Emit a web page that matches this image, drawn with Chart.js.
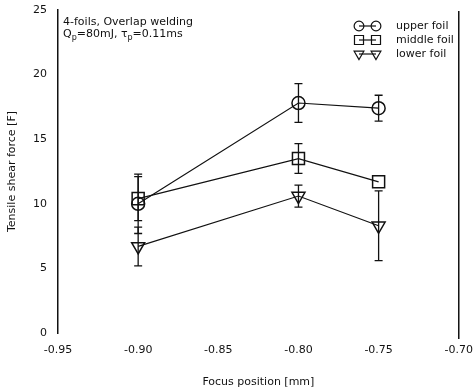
<!DOCTYPE html>
<html>
<head>
<meta charset="utf-8">
<script src="https://cdn.jsdelivr.net/npm/chart.js@4.4.1/dist/chart.umd.min.js"></script>
<style>
  html, body { margin: 0; padding: 0; background: #fff; }
  #wrap { width: 476px; height: 391px; }
</style>
</head>
<body>
<div id="wrap"><canvas id="chartFoil"></canvas></div>
<script>
// focus positions (mm) and tensile shear force per foil
var focusPos = [-0.90, -0.80, -0.75];
var upperFoil = [10.0, 17.8, 17.4];
var upperErr = [2.3, 1.5, 1.0];
var middleFoil = [10.4, 13.5, 11.7];
var middleErr = [1.7, 1.15, 0];
var lowerFoil = [6.7, 10.6, 8.3];
var lowerErr = [1.5, 0.85, 2.7];
var seriesNames = ['upper foil', 'middle foil', 'lower foil'];
var xTicks = [-0.95, -0.90, -0.85, -0.80, -0.75, -0.70];
var yTicks = [0, 5, 10, 15, 20, 25];

var ink = '#111';
var fontFam = '"DejaVu Sans", sans-serif';

function pts(ys) {
  return focusPos.map(function (x, i) { return { x: x, y: ys[i] }; });
}

// error bars drawn with the chart's own scales
var errorBars = {
  id: 'errorBars',
  afterDatasetsDraw: function (chart) {
    var ctx = chart.ctx, xs = chart.scales.x, ys = chart.scales.y;
    ctx.save();
    ctx.strokeStyle = ink;
    ctx.lineWidth = 1.3;
    chart.data.datasets.forEach(function (ds) {
      ds.data.forEach(function (p, i) {
        var e = ds.errors[i];
        if (!e) return;
        var px = xs.getPixelForValue(p.x);
        var top = ys.getPixelForValue(p.y + e);
        var bot = ys.getPixelForValue(p.y - e);
        ctx.beginPath();
        ctx.moveTo(px, top); ctx.lineTo(px, bot);
        ctx.moveTo(px - 4, top); ctx.lineTo(px + 4, top);
        ctx.moveTo(px - 4, bot); ctx.lineTo(px + 4, bot);
        ctx.stroke();
      });
    });
    ctx.restore();
  }
};

// right frame line, note text and the legend box
var extras = {
  id: 'extras',
  afterDraw: function (chart) {
    var ctx = chart.ctx, a = chart.chartArea;
    ctx.save();
    ctx.strokeStyle = ink;
    ctx.lineWidth = 1.5;
    ctx.beginPath();
    ctx.moveTo(a.right, a.top + 1);
    ctx.lineTo(a.right, a.bottom + 6);
    ctx.stroke();

    // note
    ctx.fillStyle = ink;
    ctx.textBaseline = 'alphabetic';
    ctx.textAlign = 'left';
    ctx.font = '11px ' + fontFam;
    var nx = a.left + 5, ny = a.top + 15;
    ctx.fillText('4-foils, Overlap welding', nx, ny);
    var y2 = ny + 12, cx = nx;
    var parts = [['Q', 0], ['p', 1], ['=80mJ, ', 0], ['τ', 0], ['p', 1], ['=0.11ms', 0]];
    parts.forEach(function (p) {
      ctx.font = (p[1] ? '8px ' : '11px ') + fontFam;
      ctx.fillText(p[0], cx, y2 + (p[1] ? 3 : 0));
      cx += ctx.measureText(p[0]).width;
    });

    // legend
    ctx.font = '11px ' + fontFam;
    ctx.textBaseline = 'middle';
    chart.data.datasets.forEach(function (ds, i) {
      var ly = a.top + 16 + i * 14;
      var x1 = 359, x2 = 376;
      ctx.strokeStyle = ink;
      ctx.lineWidth = 1.2;
      ctx.beginPath();
      ctx.moveTo(x1, ly); ctx.lineTo(x2, ly);
      ctx.stroke();
      var opt = { pointStyle: ds.pointStyle, radius: ds.pointRadius * 0.75, rotation: ds.pointRotation || 0, borderWidth: 1.6 };
      ctx.fillStyle = 'rgba(0,0,0,0)';
      Chart.helpers.drawPoint(ctx, opt, x1, ly);
      Chart.helpers.drawPoint(ctx, opt, x2, ly);
      ctx.fillStyle = ink;
      ctx.fillText(seriesNames[i], 396, ly);
    });
    ctx.restore();
  }
};

function makeSet(i, ys, errs, style, r, rot) {
  return {
    label: seriesNames[i],
    data: pts(ys),
    errors: errs,
    borderColor: ink,
    borderWidth: 1.2,
    backgroundColor: 'rgba(0,0,0,0)',
    pointStyle: style,
    pointRadius: r,
    pointRotation: rot,
    pointBorderColor: ink,
    pointBorderWidth: 1.5,
    pointBackgroundColor: 'rgba(0,0,0,0)',
    showLine: true,
    tension: 0
  };
}

var ctxFoil = document.getElementById('chartFoil').getContext('2d');
var configFoil = {
  type: 'scatter',
  data: {
    datasets: [
      makeSet(0, upperFoil, upperErr, 'circle', 6.5, 0),
      makeSet(1, middleFoil, middleErr, 'rect', 8.5, 0),
      makeSet(2, lowerFoil, lowerErr, 'triangle', 7.5, 180)
    ]
  },
  options: {
    responsive: true,
    maintainAspectRatio: false,
    animation: false,
    layout: { padding: { top: 1, right: 13, left: 0, bottom: 0 } },
    plugins: { legend: { display: false }, tooltip: { enabled: false } },
    scales: {
      x: {
        type: 'linear',
        min: -0.95, max: -0.70,
        afterBuildTicks: function (s) { s.ticks = xTicks.map(function (v) { return { value: v }; }); },
        afterFit: function (s) { s.height = 58; },
        grid: { display: false },
        border: { display: false },
        ticks: {
          color: ink, padding: 3, maxRotation: 0,
          font: { family: fontFam, size: 11 },
          callback: function (v) { return v.toFixed(2); }
        },
        title: { display: true, text: 'Focus position [mm]', color: ink, font: { family: fontFam, size: 11 }, padding: { top: 4, bottom: 2 } }
      },
      y: {
        min: 0, max: 25,
        afterBuildTicks: function (s) { s.ticks = yTicks.map(function (v) { return { value: v }; }); },
        afterFit: function (s) { s.width = 58; },
        grid: { display: false },
        border: { display: true, color: ink, width: 1.5 },
        ticks: { color: ink, padding: 3, font: { family: fontFam, size: 11 } },
        title: { display: true, text: 'Tensile shear force [F]', color: ink, font: { family: fontFam, size: 11 }, padding: { top: 6, bottom: 2 } }
      }
    }
  },
  plugins: [errorBars, extras]
};
var chartFoil = new Chart(ctxFoil, configFoil);
</script>
</body>
</html>
